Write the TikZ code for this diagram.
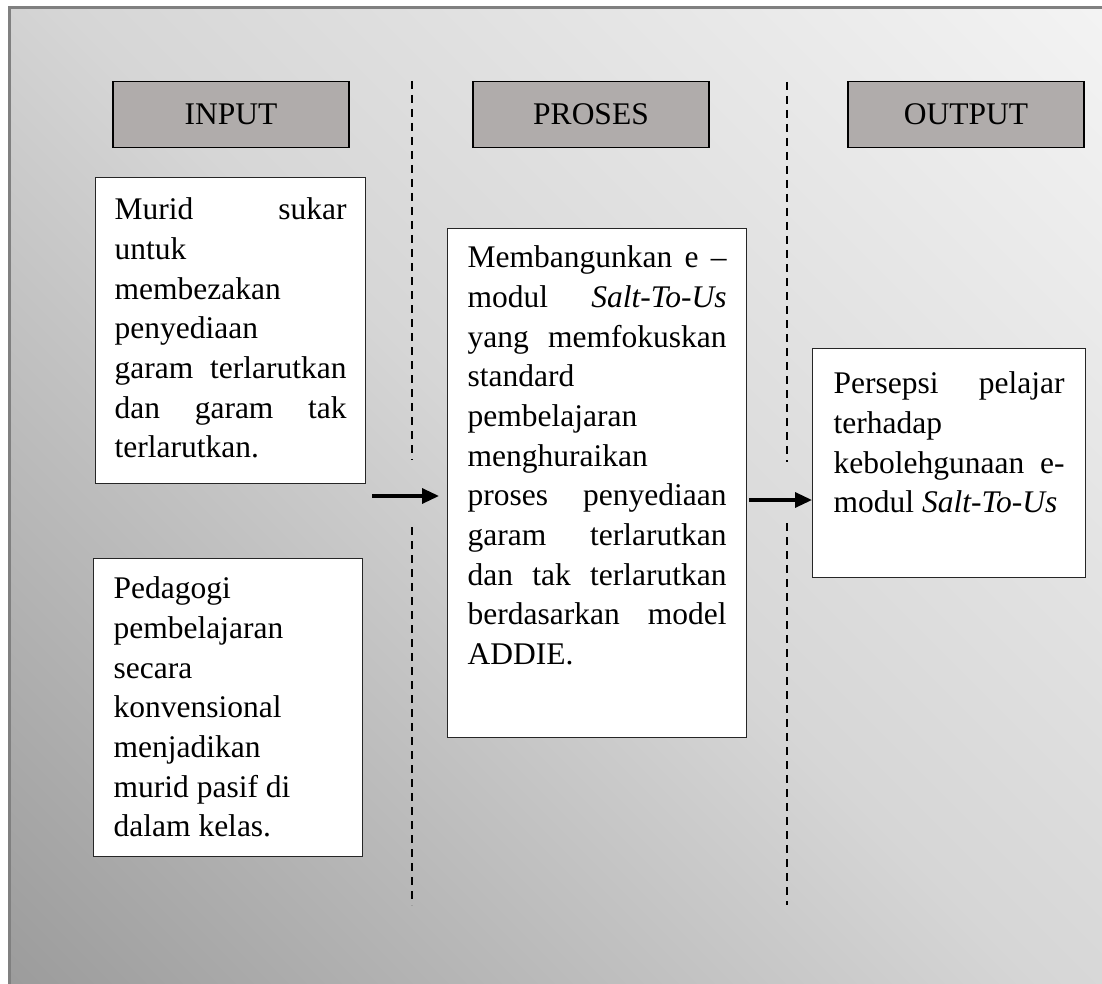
\documentclass[tikz,border=0pt]{standalone}
\usepackage{fontspec}
\setmainfont{Liberation Serif}
\usetikzlibrary{arrows.meta}
\definecolor{abukepala}{RGB}{176,172,171}
\definecolor{abubingkai}{RGB}{128,128,128}
\definecolor{latgelap}{RGB}{132,132,132}
\definecolor{lattengah}{RGB}{214,214,214}
\definecolor{latterang}{RGB}{255,255,255}
\pgfdeclareverticalshading{latar}{100bp}{color(0bp)=(latgelap); color(50bp)=(lattengah); color(100bp)=(latterang)}
\newcommand{\jl}[1]{\makebox[\linewidth][s]{#1}}
\newcommand{\isi}[4]{\parbox[t][#1][t]{#2}{\rule{0pt}{#3}#4}}
\begin{document}
\begin{tikzpicture}[x=1pt, y=-1pt,
  kepala/.style={draw=black, line width=1.2pt, fill=abukepala, minimum width=236pt, minimum height=66pt, text height=21pt, text depth=0pt, font=\fontsize{31.5}{38}\selectfont},
  kotak/.style={draw=black!85, line width=1.3pt, fill=white, anchor=north west, inner ysep=0pt, font=\fontsize{31.5}{39.7}\selectfont},
  sekat/.style={line width=2pt, dash pattern=on 8pt off 6pt},
  panah/.style={line width=3.3pt, -{Triangle[length=17pt,width=15pt]}}]
\useasboundingbox (0,0) rectangle (1102,984);
\clip (0,0) rectangle (1102,984);
\shade[shading=latar, shading angle=-45] (9,8) rectangle (1102,984);
\draw[abubingkai, line width=3pt] (9,995) -- (9,8) -- (1110,8);

\node[kepala] (input) at (231,114.5) {INPUT};
\node[kepala] (proses) at (591,114.5) {PROSES};
\node[kepala] (output) at (966,114.5) {OUTPUT};

\draw[sekat] (412,81) -- (412,460) (412,527) -- (412,905);
\draw[sekat] (787,82) -- (787,462) (787,523) -- (787,905);

\node[kotak, inner xsep=19pt] (murid) at (95,177) {\isi{306pt}{232pt}{42pt}{\jl{Murid sukar}\\ untuk\\ membezakan\\ penyediaan\\ \jl{garam terlarutkan}\\ \jl{dan garam tak}\\ terlarutkan.}};
\node[kotak, inner xsep=20pt] (pedagogi) at (93,558) {\isi{298pt}{229pt}{40pt}{Pedagogi\\ pembelajaran\\ secara\\ konvensional\\ menjadikan\\ murid pasif di\\ dalam kelas.}};
\node[kotak, inner xsep=20pt] (modul) at (447,228) {\isi{509pt}{259pt}{39pt}{\jl{Membangunkan e –}\\ \jl{modul \textit{Salt-To-Us}}\\ \jl{yang memfokuskan}\\ standard\\ pembelajaran\\ menghuraikan\\ \jl{proses penyediaan}\\ \jl{garam terlarutkan}\\ \jl{dan tak terlarutkan}\\ \jl{berdasarkan model}\\ ADDIE.}};
\node[kotak, inner xsep=21pt] (persepsi) at (812,348) {\isi{229pt}{231pt}{45pt}{\jl{Persepsi pelajar}\\ terhadap\\ \jl{kebolehgunaan e-}\\ modul \textit{Salt-To-Us}}};

\coordinate (p1) at (372,496);
\coordinate (p2) at (749,500);
\draw[panah, shorten >=8pt] (p1) -- (modul.west |- p1);
\draw[panah] (p2) -- (persepsi.west |- p2);
\end{tikzpicture}
\end{document}
